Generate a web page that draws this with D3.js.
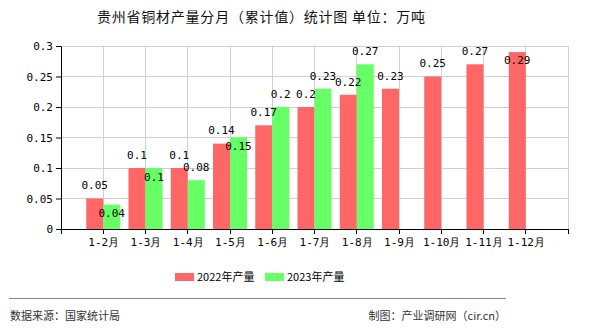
<!DOCTYPE html>
<html><head><meta charset="utf-8">
<script src="https://cdn.jsdelivr.net/npm/d3@7"></script>
<style>body{margin:0;background:#fff}svg{display:block}</style>
</head><body>
<script>
const categories = ["1-2月","1-3月","1-4月","1-5月","1-6月","1-7月","1-8月","1-9月","1-10月","1-11月","1-12月"];
const series2022 = [0.05,0.1,0.1,0.14,0.17,0.2,0.22,0.23,0.25,0.27,0.29];
const series2023 = [0.04,0.1,0.08,0.15,0.2,0.23,0.27];
const seriesNames = ["2022年产量","2023年产量"];
const yTicks = [0,0.05,0.1,0.15,0.2,0.25,0.3];
const yTickLabels = ["0","0.05","0.1","0.15","0.2","0.25","0.3"];
const title = "贵州省铜材产量分月（累计值）统计图 单位：万吨";
const sourceText = "数据来源：国家统计局";
const makerText = "制图：产业调研网（cir.cn）";

const W=590,H=330;
const svg=d3.select("body").append("svg").attr("width",W).attr("height",H);
const L=61,R=568,T=46,B=229;
const x=d3.scalePoint().domain(categories).range([L,R]).padding(1);
const y=d3.scaleLinear().domain([0,0.3]).range([B,T]);
const colors=["#ff6666","#66ff66"];
const mono="'DejaVu Sans Mono','Liberation Mono',monospace";
const cjk="'Noto Sans CJK SC','Noto Sans',sans-serif";

svg.append("text").attr("x",97).attr("y",22).attr("font-family",cjk).attr("font-size",14)
  .attr("textLength",328).attr("lengthAdjust","spacing")
  .attr("fill","#111").text(title);

// grid
const g=svg.append("g");
yTicks.forEach(t=>{ if(t>0) g.append("line").attr("x1",L).attr("x2",R).attr("y1",y(t)).attr("y2",y(t)).attr("stroke","#d0d0d0").attr("stroke-width",1).attr("shape-rendering","crispEdges");});
const xTickPos=[L,...categories.map(c=>x(c)),R];
xTickPos.forEach(p=>{ if(p>L) g.append("line").attr("x1",p).attr("x2",p).attr("y1",T).attr("y2",B).attr("stroke","#d0d0d0").attr("shape-rendering","crispEdges");});

// bars
const bw=17;
svg.append("g").selectAll("rect").data(series2022).join("rect")
  .attr("x",(d,i)=>x(categories[i])-bw).attr("width",bw)
  .attr("y",d=>y(d)).attr("height",d=>B-y(d)).attr("fill",colors[0]);
svg.append("g").selectAll("rect").data(series2023).join("rect")
  .attr("x",(d,i)=>x(categories[i])).attr("width",bw)
  .attr("y",d=>y(d)).attr("height",d=>B-y(d)).attr("fill",colors[1]);

// axes
const yAxis=d3.axisLeft(y).tickValues(yTicks).tickFormat((d,i)=>yTickLabels[i]).tickSize(5).tickSizeOuter(0);
const ya=svg.append("g").attr("transform",`translate(${L},0)`).call(yAxis);
ya.selectAll("text").attr("font-family",mono).attr("font-size",11).attr("fill","#000").attr("x",-8);
ya.select(".domain").attr("stroke","#000");
ya.selectAll(".tick line").attr("stroke","#000");

const xb=svg.append("g").attr("transform",`translate(0,${B})`);
xb.append("line").attr("x1",L).attr("x2",R).attr("stroke","#000").attr("shape-rendering","crispEdges");
xTickPos.forEach(p=>xb.append("line").attr("x1",p).attr("x2",p).attr("y1",0).attr("y2",5).attr("stroke","#000").attr("shape-rendering","crispEdges"));
const xAxis=d3.axisBottom(x).tickSize(0).tickSizeOuter(0);
const xa=svg.append("g").attr("transform",`translate(0,${B})`).call(xAxis);
xa.select(".domain").remove();
xa.selectAll("text").attr("font-family",mono).attr("font-size",11).attr("fill","#000").attr("dy","0").attr("y",17);

// labels
const lab=svg.append("g").attr("font-family",mono).attr("font-size",11).attr("fill","#000").attr("text-anchor","middle");
series2022.forEach((v,i)=>{
  let cy=y(v)-13; if(cy<T) cy=y(v)+8;
  lab.append("text").attr("x",x(categories[i])-bw/2).attr("y",cy).attr("dy","0.35em").text(v);
});
series2023.forEach((v,i)=>{
  const r=series2022[i];
  let cy=y(v)-13;
  if(Math.abs(y(v)-y(r))<10) cy=y(v)+9;
  lab.append("text").attr("x",x(categories[i])+bw/2).attr("y",cy).attr("dy","0.35em").text(v);
});

// legend
const lg=svg.append("g");
[[175,seriesNames[0],colors[0]],[265,seriesNames[1],colors[1]]].forEach(([lx,t,c])=>{
  lg.append("rect").attr("x",lx).attr("y",273).attr("width",19).attr("height",8).attr("fill",c);
  lg.append("text").attr("x",lx+22).attr("y",277).attr("dy","0.35em").attr("font-family",cjk).attr("font-size",11).attr("fill","#000").text(t);
});

// footer
svg.append("line").attr("x1",9).attr("x2",506).attr("y1",298.5).attr("y2",298.5).attr("stroke","#888");
svg.append("text").attr("x",10).attr("y",316).attr("dy","0.35em").attr("font-family",cjk).attr("font-size",11).attr("fill","#333").text(sourceText);
svg.append("text").attr("x",506).attr("y",316).attr("dy","0.35em").attr("text-anchor","end").attr("font-family",cjk).attr("font-size",11).attr("fill","#333").text(makerText);
</script>
</body></html>
